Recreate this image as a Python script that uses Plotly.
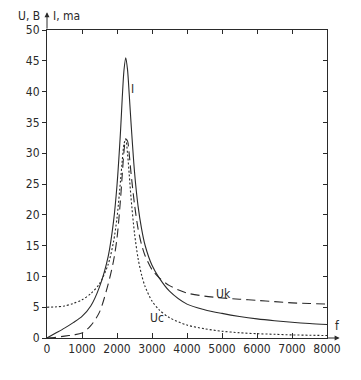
import plotly.graph_objects as go

freq = [0, 250, 500, 750, 1000, 1250, 1500, 1750, 1900, 2000, 2100, 2150, 2200, 2250, 2300,
        2350, 2400, 2500, 2600, 2700, 2800, 3000, 3200, 3500, 4000, 4500, 5000, 5500, 6000,
        6500, 7000, 7500, 8000]
current_ma = [0, 0.8, 1.6, 2.5, 3.5, 5.2, 8.3, 13.3, 18.9, 24.8, 33.5, 39, 43.5, 45.5, 43.6,
              39.5, 35, 27, 21.5, 17.8, 15.1, 11.8, 9.8, 7.6, 5.5, 4.6, 4.0, 3.5, 3.1,
              2.8, 2.55, 2.35, 2.2]
u_c = [5.0, 5.05, 5.2, 5.6, 6.2, 7.2, 8.8, 12.0, 15.6, 19.5, 25.5, 28.8, 31.5, 32.3, 30.0,
       26.5, 22.8, 17.0, 13.0, 10.3, 8.4, 6.0, 4.6, 3.3, 2.1, 1.5, 1.1, 0.85, 0.7,
       0.6, 0.5, 0.45, 0.4]
u_k = [0, 0.1, 0.3, 0.5, 0.8, 2.0, 4.2, 8.8, 12.5, 16.2, 22.5, 26.5, 30.3, 32.3, 32.0,
       29.8, 26.8, 21.7, 17.8, 15.2, 13.4, 11.1, 9.8, 8.5, 7.3, 6.8, 6.5, 6.3, 6.1,
       5.9, 5.7, 5.6, 5.5]
x_ticks = [0, 1000, 2000, 3000, 4000, 5000, 6000, 7000, 8000]
y_ticks = [0, 5, 10, 15, 20, 25, 30, 35, 40, 45, 50]

FONT = "Liberation Sans Narrow, Arial Narrow, DejaVu Sans Condensed, sans-serif"
INK = "#2a2a2a"

fig = go.Figure()
fig.add_trace(go.Scatter(x=freq, y=current_ma, mode="lines", name="I",
                         line=dict(color=INK, width=1.1, shape="spline", smoothing=0.8)))
fig.add_trace(go.Scatter(x=freq, y=u_k, mode="lines", name="Uk",
                         line=dict(color=INK, width=1.1, dash="9px,5px", shape="spline", smoothing=0.8)))
fig.add_trace(go.Scatter(x=freq, y=u_c, mode="lines", name="Uc",
                         line=dict(color=INK, width=1.1, dash="2px,2px", shape="spline", smoothing=0.8)))
# invisible traces carrying the mirrored (inward) axis ticks
fig.add_trace(go.Scatter(x=[0], y=[0], yaxis="y2", mode="markers",
                         marker=dict(opacity=0), showlegend=False, hoverinfo="skip"))
fig.add_trace(go.Scatter(x=[0], y=[0], xaxis="x2", mode="markers",
                         marker=dict(opacity=0), showlegend=False, hoverinfo="skip"))

fig.update_layout(
    width=353, height=372,
    margin=dict(l=39, r=34, t=22, b=42),
    paper_bgcolor="white", plot_bgcolor="white",
    showlegend=False,
    font=dict(family=FONT, size=12, color=INK),
    xaxis=dict(range=[0, 8000], tickvals=x_ticks, ticks="inside", ticklen=5,
               tickcolor=INK, showline=True, linecolor=INK, linewidth=1,
               showgrid=False, zeroline=False, automargin=False,
               tickfont=dict(family=FONT, size=12)),
    xaxis2=dict(range=[0, 8000], tickvals=x_ticks, ticks="inside", ticklen=4,
                tickcolor=INK, showline=True, linecolor=INK, linewidth=1,
                overlaying="x", side="top", showticklabels=False,
                showgrid=False, zeroline=False),
    yaxis=dict(range=[0, 50], tickvals=y_ticks, ticks="outside", ticklen=4,
               tickcolor=INK, showline=True, linecolor=INK, linewidth=1,
               showgrid=False, zeroline=False, automargin=False,
               tickfont=dict(family=FONT, size=12)),
    yaxis2=dict(range=[0, 50], tickvals=y_ticks, ticks="inside", ticklen=4,
                tickcolor=INK, showline=True, linecolor=INK, linewidth=1,
                overlaying="y", side="right", showticklabels=False,
                showgrid=False, zeroline=False),
)

# axis arrows
fig.add_annotation(xref="paper", yref="paper", x=0.0, y=1.058, ax=0, ay=18,
                   showarrow=True, arrowhead=2, arrowsize=1, arrowwidth=1,
                   arrowcolor=INK, text="")
fig.add_annotation(xref="paper", yref="paper", x=1.045, y=0.0, ax=-13, ay=0,
                   showarrow=True, arrowhead=2, arrowsize=1, arrowwidth=1,
                   arrowcolor=INK, text="")

# axis titles and curve labels
fig.add_annotation(xref="paper", yref="paper", x=-0.018, y=1.045, text="U, B",
                   showarrow=False, xanchor="right", yanchor="middle",
                   font=dict(family=FONT, size=12))
fig.add_annotation(xref="paper", yref="paper", x=0.014, y=1.045, text="I, ma",
                   showarrow=False, xanchor="left", yanchor="middle",
                   font=dict(family=FONT, size=12))
fig.add_annotation(xref="paper", yref="paper", x=1.02, y=0.04, text="f",
                   showarrow=False, xanchor="left", yanchor="middle",
                   font=dict(family=FONT, size=12))
fig.add_annotation(x=2450, y=40.5, text="I", showarrow=False,
                   font=dict(family=FONT, size=12))
fig.add_annotation(x=5050, y=7.2, text="Uk", showarrow=False,
                   font=dict(family=FONT, size=12))
fig.add_annotation(x=3150, y=3.2, text="Uc", showarrow=False,
                   font=dict(family=FONT, size=12))

fig.write_html("out.html")
